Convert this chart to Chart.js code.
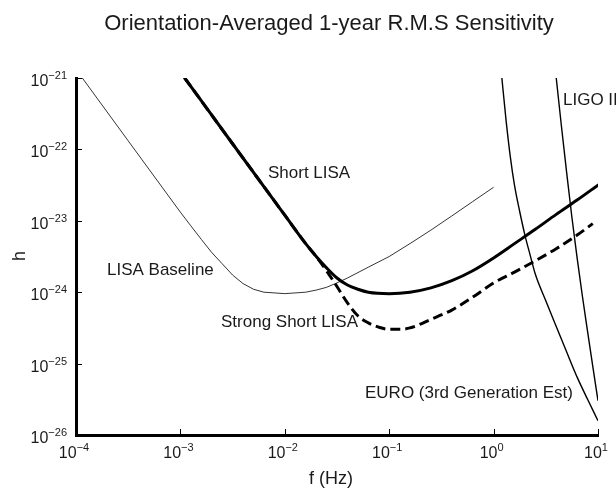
<!DOCTYPE html>
<html><head><meta charset="utf-8">
<script src="https://cdn.jsdelivr.net/npm/chart.js@4"></script>
<style>html,body{margin:0;padding:0;background:#fff}#wrap{width:616px;height:491px}</style>
</head><body><div id="wrap"><canvas id="c" width="616" height="491"></canvas></div>
<script>
// ---- text ----
const titleText = 'Orientation-Averaged 1-year R.M.S Sensitivity';
const xTitle = 'f (Hz)';
const yTitle = 'h';

// ---- ticks ----
const xTicks = [1e-4, 1e-3, 1e-2, 1e-1, 1e0, 1e1];
const xTickExp = ['\u22124', '\u22123', '\u22122', '\u22121', '0', '1'];
const yTicks = [1e-26, 1e-25, 1e-24, 1e-23, 1e-22, 1e-21];
const yTickExp = ['\u221226', '\u221225', '\u221224', '\u221223', '\u221222', '\u221221'];

// ---- series (frequency in Hz, strain h) ----
const baselineF = [1e-4, 1.15e-4, 3.16e-4, 1e-3, 1.259e-3, 1.585e-3, 1.995e-3, 2.51e-3, 3.16e-3, 3.98e-3, 5.01e-3, 6.31e-3, 1e-2, 1.585e-2, 2.0e-2, 2.51e-2, 3.16e-2, 3.98e-2, 6.31e-2, 0.1, 0.158, 0.251, 0.398, 0.631, 1.0];
const baselineH = [1e-21, 1e-21, 1.32e-22, 1.32e-23, 8.5e-24, 5.5e-24, 3.6e-24, 2.51e-24, 1.74e-24, 1.32e-24, 1.1e-24, 1.0e-24, 9.55e-25, 1.0e-24, 1.07e-24, 1.17e-24, 1.35e-24, 1.58e-24, 2.24e-24, 3.16e-24, 4.79e-24, 7.41e-24, 1.17e-23, 1.86e-23, 2.95e-23];

const shortF = [1.1e-3, 3.16e-3, 1e-2, 1.585e-2, 2.0e-2, 2.51e-2, 3.16e-2, 3.98e-2, 5.01e-2, 6.31e-2, 0.1, 0.158, 0.251, 0.398, 0.631, 1.0, 1.585, 2.51, 3.98, 6.31, 10];
const shortH = [1e-21, 1.2e-22, 1.2e-23, 4.79e-24, 3.16e-24, 2.19e-24, 1.58e-24, 1.26e-24, 1.1e-24, 1.0e-24, 9.55e-25, 1.0e-24, 1.15e-24, 1.45e-24, 2.0e-24, 3.02e-24, 4.79e-24, 7.59e-24, 1.23e-23, 1.95e-23, 3.16e-23];

const strongF = [1.1e-3, 3.16e-3, 1e-2, 1.585e-2, 2.0e-2, 2.51e-2, 3.16e-2, 3.98e-2, 5.01e-2, 6.31e-2, 7.94e-2, 0.1, 0.126, 0.158, 0.251, 0.398, 0.631, 1.0, 1.585, 2.51, 3.98, 6.31, 8.91];
const strongH = [1e-21, 1.2e-22, 1.2e-23, 4.79e-24, 3.16e-24, 2.0e-24, 1.2e-24, 7.08e-25, 4.68e-25, 3.72e-25, 3.24e-25, 3.02e-25, 3.02e-25, 3.16e-25, 4.17e-25, 5.62e-25, 8.51e-25, 1.35e-24, 1.91e-24, 2.75e-24, 4.07e-24, 6.31e-24, 9.12e-24];

const euroF = [1.2, 1.318, 1.445, 1.585, 1.778, 1.995, 2.239, 2.512, 3.162, 3.981, 5.012, 6.31, 7.943, 10];
const euroH = [1e-21, 2.51e-22, 7.94e-23, 3.16e-23, 1.35e-23, 6.31e-24, 3.31e-24, 1.78e-24, 7.59e-25, 3.31e-25, 1.45e-25, 6.46e-26, 3.16e-26, 1.58e-26];

const ligoF = [3.981, 4.467, 5.012, 5.623, 6.31, 7.079, 7.943, 8.913, 10];
const ligoH = [1e-21, 2.09e-22, 4.68e-23, 1.12e-23, 3.02e-24, 8.91e-25, 2.82e-25, 9.12e-26, 3.02e-26];

// ---- curve labels and their placement (left x, middle y, in pixels) ----
const labelText = ['Short LISA', 'LISA Baseline', 'Strong Short LISA', 'EURO (3rd Generation Est)', 'LIGO II'];
const labelPos = [[268, 173], [107, 270], [221, 322], [365, 393], [563, 100]];

const FONT = '"Liberation Sans", Arial, Helvetica, sans-serif';
const TXT = '#1a1a1a';

function pts(F, H) { return F.map((f, i) => ({x: f, y: H[i]})); }

const textPlugin = {
  id: 'texts',
  afterDraw(chart) {
    const ctx = chart.ctx, xs = chart.scales.x, ys = chart.scales.y, ca = chart.chartArea;
    ctx.save();
    // inner tick marks
    ctx.strokeStyle = '#000'; ctx.lineWidth = 1;
    xTicks.forEach(v => {
      const px = Math.round(xs.getPixelForValue(v)) + 0.5;
      ctx.beginPath(); ctx.moveTo(px, ca.bottom); ctx.lineTo(px, ca.bottom - 6); ctx.stroke();
    });
    yTicks.forEach(v => {
      const py = Math.round(ys.getPixelForValue(v)) + 0.5;
      ctx.beginPath(); ctx.moveTo(ca.left, py); ctx.lineTo(ca.left + 6, py); ctx.stroke();
    });
    ctx.fillStyle = TXT;
    ctx.textBaseline = 'alphabetic';
    // x tick labels
    xTicks.forEach((v, i) => {
      const px = xs.getPixelForValue(v);
      ctx.font = '16px ' + FONT; const wb = ctx.measureText('10').width;
      ctx.font = '11px ' + FONT; const we = ctx.measureText(xTickExp[i]).width;
      let x0 = px - (wb + we) / 2 - 2;
      if (x0 + wb + we > 608) x0 = 608 - wb - we;
      ctx.textAlign = 'left';
      ctx.font = '16px ' + FONT; ctx.fillText('10', x0, ca.bottom + 23);
      ctx.font = '11px ' + FONT; ctx.fillText(xTickExp[i], x0 + wb, ca.bottom + 16);
    });
    // y tick labels
    yTicks.forEach((v, i) => {
      const py = ys.getPixelForValue(v);
      ctx.font = '11px ' + FONT; const we = ctx.measureText(yTickExp[i]).width;
      ctx.textAlign = 'right';
      ctx.fillText(yTickExp[i], ca.left - 9, py + 1);
      ctx.font = '16px ' + FONT; ctx.fillText('10', ca.left - 9 - we, py + 8);
    });
    // title
    ctx.textAlign = 'center'; ctx.textBaseline = 'middle';
    ctx.font = '22px ' + FONT; ctx.fillText(titleText, 329, 24);
    // axis titles
    ctx.font = '18px ' + FONT; ctx.fillText(xTitle, 331, 479);
    ctx.save(); ctx.translate(20, 256); ctx.rotate(-Math.PI / 2);
    ctx.fillText(yTitle, 0, 0); ctx.restore();
    // curve labels
    ctx.textAlign = 'left'; ctx.font = '17px ' + FONT;
    labelText.forEach((t, i) => ctx.fillText(t, labelPos[i][0], labelPos[i][1]));
    ctx.restore();
  }
};

new Chart(document.getElementById('c'), {
  type: 'line',
  data: {
    datasets: [
      {label: 'LISA Baseline', data: pts(baselineF, baselineH), borderColor: '#000', borderWidth: 0.8, cubicInterpolationMode: 'default', tension: 0},
      {label: 'Short LISA', data: pts(shortF, shortH), borderColor: '#000', borderWidth: 3, borderCapStyle: 'round'},
      {label: 'Strong Short LISA', data: pts(strongF, strongH), borderColor: '#000', borderWidth: 3, borderDash: [10, 5]},
      {label: 'EURO (3rd Generation Est)', data: pts(euroF, euroH), borderColor: '#000', borderWidth: 1.4},
      {label: 'LIGO II', data: pts(ligoF, ligoH), borderColor: '#000', borderWidth: 1.4}
    ]
  },
  options: {
    responsive: false, animation: false, devicePixelRatio: 1,
    layout: {padding: {left: 0, right: 18, top: 78, bottom: 0}},
    elements: {point: {radius: 0}, line: {fill: false, cubicInterpolationMode: 'monotone'}},
    plugins: {legend: {display: false}, title: {display: false}, tooltip: {enabled: false}},
    scales: {
      x: {
        type: 'logarithmic', position: 'bottom', min: 1e-4, max: 10,
        afterBuildTicks: s => { s.ticks = xTicks.map(v => ({value: v})); },
        afterFit: s => { s.height = 56; },
        ticks: {display: false},
        grid: {display: false},
        border: {display: true, color: '#000', width: 3}
      },
      y: {
        type: 'logarithmic', position: 'left', min: 1e-26, max: 1e-21,
        afterBuildTicks: s => { s.ticks = yTicks.map(v => ({value: v})); },
        afterFit: s => { s.width = 76; },
        ticks: {display: false},
        grid: {display: false},
        border: {display: true, color: '#000', width: 3}
      }
    }
  },
  plugins: [textPlugin]
});
</script>
</body></html>
